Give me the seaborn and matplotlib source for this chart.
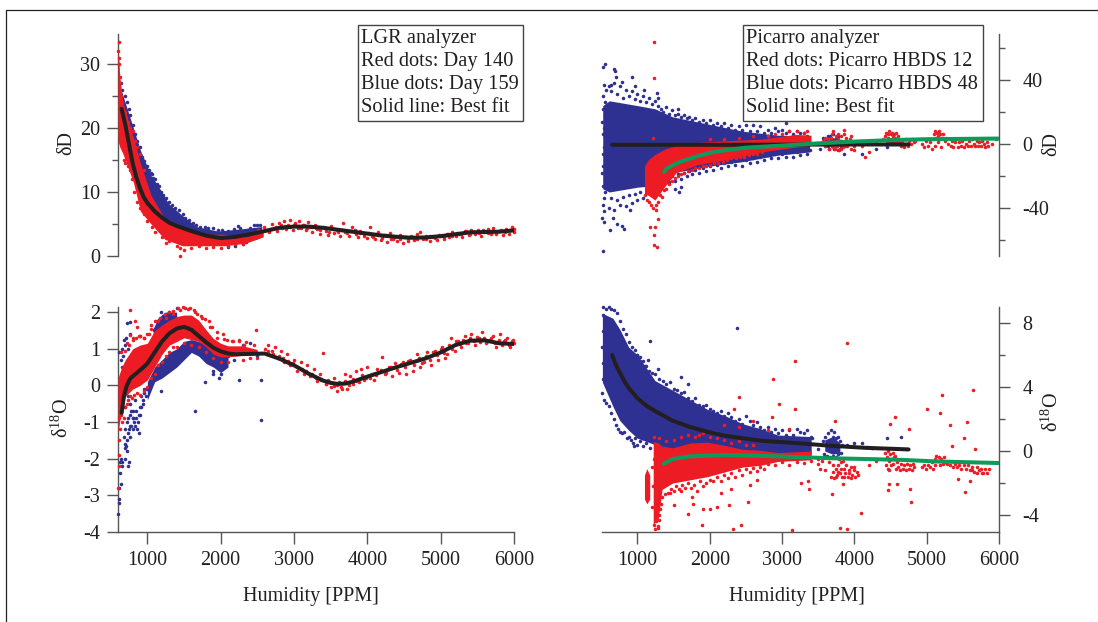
import matplotlib
matplotlib.use("Agg")
import matplotlib.pyplot as plt
from matplotlib.lines import Line2D
from matplotlib.ticker import FixedLocator
import seaborn as sns

sns.set_theme(style="white")
plt.rcParams["font.family"] = ["Liberation Serif", "DejaVu Serif"]
plt.rcParams["mathtext.fontset"] = "custom"
plt.rcParams["mathtext.rm"] = "Liberation Serif"
plt.rcParams["axes.unicode_minus"] = False

# ---- fitted curves
tl_fit_x = [650,700,750,800,850,900,950,1000,1100,1200,1300,1400,1500,1600,1800,2000,2200,2400,2600,2800,3000,3200,3400,3600,3800,4000,4200,4400,4600,4800,5000,5200,5400,5600,5800,6000]
tl_fit_y = [23,20.5,17.5,14.5,12.3,10.6,9.2,8.3,7,6,5.2,4.7,4.3,3.9,3.2,2.8,3,3.4,3.9,4.4,4.6,4.6,4.4,4.1,3.8,3.5,3.2,3,2.85,2.9,3.1,3.4,3.7,3.75,3.8,4.0]
bl_fit_x = [650,680,720,770,850,950,1000,1100,1200,1300,1400,1500,1600,1700,1800,1900,2000,2100,2200,2400,2600,2800,3000,3200,3400,3500,3600,3700,3800,4000,4200,4400,4600,4800,5000,5200,5400,5600,5800,6000]
bl_fit_y = [-0.75,-0.3,0,0.2,0.33,0.5,0.6,0.9,1.2,1.42,1.55,1.6,1.52,1.35,1.18,1.03,0.93,0.87,0.85,0.86,0.87,0.73,0.55,0.32,0.13,0.07,0.04,0.05,0.1,0.24,0.37,0.5,0.62,0.74,0.9,1.1,1.22,1.23,1.15,1.13]
tr_black_x = [650,1000,2000,3000,4000,4750]
tr_black_y = [-0.5,-0.5,-0.5,-0.4,-0.3,-0.3]
tr_green_x = [1370,1400,1500,1600,1800,2000,2200,2500,2800,3000,3500,4000,4500,5000,5500,6000]
tr_green_y = [-17.5,-15.5,-13,-11,-8,-5.5,-4,-2.3,-1.5,-1,0.4,1.5,2.4,3,3.2,3.4]
br_black_x = [650,700,757,815,878,1000,1120,1243,1485,1728,1970,2213,2700,3184,3670,4155,4750]
br_black_y = [6.0,5.4,4.9,4.4,3.95,3.3,2.85,2.5,1.9,1.5,1.2,0.95,0.65,0.5,0.33,0.2,0.1]
br_green_x = [1364,1485,1728,2213,2700,3670,4641,5126,6000]
br_green_y = [-0.8,-0.5,-0.33,-0.25,-0.3,-0.45,-0.55,-0.65,-0.75]

# ---- outlines of the solid, saturated core of each cloud
tl_blue_band_x = [640,740,906,1050,1145,1290,1480,1670,1960,2245,2485,2560]
tl_blue_band_lo = [20,18,11,7,6,4.5,3.5,3,2.5,2,2.6,3]
tl_blue_band_hi = [26,22.5,16.5,12.6,11,8.2,6.3,4.6,3.9,4.2,4.5,4.6]
tl_red_band_x = [600,625,667,810,906,1050,1240,1480,1770,2055,2340,2580]
tl_red_band_lo = [18,17,16,11.5,7,5,2.6,1.6,1.6,1.6,2,3]
tl_red_band_hi = [33,28,24,18.5,14.5,9.5,5.8,4.3,3.4,3.4,3,3.8]

bl_blue_band1_x = [1000,1100,1200,1300,1400,1500,1600,1700,1800,1900,2000,2100]
bl_blue_band1_lo = [-0.4,0.1,0.2,0.35,0.5,0.7,0.9,0.8,0.6,0.5,0.35,0.5]
bl_blue_band1_hi = [0.1,0.5,0.7,0.9,1,1.2,1.25,1.2,1.1,1,0.9,0.8]
bl_blue_band2_x = [1080,1150,1250,1400]
bl_blue_band2_lo = [1.3,1.4,1.5,1.6]
bl_blue_band2_hi = [1.55,1.85,2.0,2.0]
bl_red_band_x = [600,650,700,800,900,1000,1100,1200,1300,1400,1500,1600,1700,1800,1900,2000,2100,2300,2500]
bl_red_band_lo = [-1.3,-0.6,-0.3,-0.1,0,0.15,0.5,0.85,1.1,1.2,1.3,1.25,1.2,1.05,0.85,0.78,0.78,0.82,0.85]
bl_red_band_hi = [0.2,0.5,0.7,1.0,1.1,1.15,1.5,1.65,1.78,1.88,1.92,1.92,1.78,1.52,1.28,1.15,1.08,1.08,0.98]

tr_blue_band_x = [520,612,1000,1243,1485,1970,2456,2940,3380]
tr_blue_band_lo = [-28,-30,-27,-26,-18,-14,-11,-7,-5]
tr_blue_band_hi = [24,27,24,22,17,12.5,8,5.5,5]
tr_blue2_x = [3590,3700,3800]
tr_blue2_lo = [0,-2,-1]
tr_blue2_hi = [3,4,3]
tr_red_band_x = [1097,1146,1243,1388,1534,1825,2213,2700,3184,3400]
tr_red_band_lo = [-31,-32,-35,-26,-18,-13,-10,-5,-2,-1]
tr_red_band_hi = [-14,-10,-6.5,-3,-1,1,2,3,6,5.5]

br_blue_band_x = [515,660,757,878,1000,1243,1485,1728,1970,2213,2456,2700,2941,3403]
br_blue_band_lo = [4.3,2.8,1.9,1.3,0.8,0.4,0.1,0.05,0,0,-0.1,-0.1,-0.3,-0.2]
br_blue_band_hi = [8.6,8.3,7.6,6.5,6,4.4,3.8,3.2,2.6,2.2,1.7,1.4,1,0.9]
br_blue2_x = [3590,3700,3800]
br_blue2_lo = [0,-0.2,-0.1]
br_blue2_hi = [0.7,0.9,0.5]
br_red_band_x = [1218,1290,1340,1485,1728,1970,2213,2456,2700,2941,3403]
br_red_band_lo = [-4.6,-4.2,-2.4,-2.0,-1.8,-1.6,-1.3,-1.0,-0.9,-0.65,-0.55]
br_red_band_hi = [0.6,0.5,0.3,0.2,0.5,0.55,0.35,0.1,0.05,-0.1,0]
br_red_sliver_x = [1097,1130,1170]
br_red_sliver_lo = [-3,-3.3,-3]
br_red_sliver_hi = [-1.5,-1.1,-1.5]

# ---- individual dots, as (ppm, delta) pairs
tl_blue_pts = [(640,27),(660,26),(690,25),(720,24),(745,23),(770,22),(800,20.5),(830,19),(860,18),(900,17),(930,15.5),(960,14.8),(990,14),(1020,13.5),(1045,13),(1060,12.8),(1080,12.2),(1100,12),(1130,11.2),(1160,11),(1190,10),(1220,9.5),(1250,9),(1290,8.5),(1330,8),(1380,7.5),(1430,7.2),(1480,6.5),(1520,6),(1570,5.6),(1620,5.2),(1670,4.9),(1720,4.6),(1780,4.6),(1830,4.3),(1900,4.3),(1960,4),(2020,4),(2100,3.9),(2180,4.2),(2230,4.7),(2260,4.4),(2340,3.8),(2400,4.4),(2450,4.8),(2500,4.9),(2540,4.8),(2100,1.4),(2200,1.5),(2300,1.9),(2350,2.2),(2400,2.7),(2480,3.1)]
tl_red_pts = [(610,33.5),(605,32),(615,31),(620,30),(625,28),(630,27),(640,25),(650,24),(700,22.5),(730,21),(760,20),(800,19.5),(830,18),(860,17),(900,16),(950,13.5),(680,15),(700,14.5),(730,14),(760,13.5),(790,12),(820,10),(860,8.5),(900,7.5),(950,6.5),(1000,5.5),(1060,4.5),(1100,3.8),(1200,3),(1250,2),(1300,2.3),(1400,1.5),(1450,1.2),(1500,1),(1600,1.3),(1700,1.5),(1440,0),(1800,1.2),(1900,1.4),(2000,1.2),(2100,1.6),(2200,1.9),(2300,1.8),
 (2420,3.6),(2460,3.1),(2510,4.1),(2550,3.5),(2590,4.6),(2620,4),(2660,3.7),(2700,5),(2730,4.3),(2770,3.9),(2800,5.2),(2830,4.4),(2860,5.5),(2890,4.2),(2920,4.9),(2950,5.6),(2980,4.1),(3010,5.1),(3040,4.7),(3070,5.4),(3100,4.3),(3130,4.9),(3160,4.1),(3190,5.3),(3220,4.6),(3250,3.8),(3290,4.9),(3320,4.2),(3350,3.4),(3390,4.6),(3430,3.9),(3470,3.3),(3510,4.7),(3550,3.6),(3590,4.1),(3630,3.1),(3670,5.1),(3700,3.7),(3750,3.2),(3790,4.6),(3830,4),(3870,3),(3900,3.9),(3950,3.4),(3990,2.8),(4030,4.5),(4070,3.1),(4110,2.6),(4150,3.8),(4190,2.5),(4230,3.3),(4270,2.2),(4310,3.6),(4350,2.7),(4400,2.4),(4440,3.3),(4480,2.1),(4520,2.9),(4560,2.3),(4600,3.2),(4640,2.5),(4680,3.4),(4720,3.8),(4760,2.7),(4800,3.1),(4850,2.3),(4900,3),(4950,2.5),(5000,3.2),(5040,2.6),(5080,3.5),(5120,2.9),(5160,3.7),(5210,3.1),(5250,3.4),(5290,3),(5330,3.9),(5380,3.3),(5420,4.1),(5470,3.5),(5510,4),(5550,3.2),(5590,3.7),(5640,4.2),(5680,3.4),(5720,4.4),(5760,3.6),(5800,3.9),(5850,3.3),(5890,4.2),(5930,3.5),(5970,4.5),(6000,3.7),
 (2440,3.5),(2520,3.7),(2600,4.0),(2680,4.2),(2750,4.5),(2820,4.8),(2880,4.7),(2940,4.5),(3000,4.9),(3060,4.4),(3120,4.8),(3180,4.3),(3240,4.5),(3300,4.4),(3360,4),(3420,4.3),(3480,3.8),(3540,4.2),(3600,3.8),(3660,4.1),(3720,3.6),(3780,3.9),(3840,3.4),(3900,3.6),(3960,3.2),(4020,3.6),(4080,2.9),(4140,3.3),(4200,2.8),(4260,3.3),(4320,2.6),(4380,3),(4440,2.7),(4500,3),(4560,2.6),(4620,3),(4680,2.6),(4740,3),(4800,2.7),(4860,3.1),(4920,2.8),(4980,3.3),(5040,3),(5100,3.5),(5160,3.2),(5220,3.6),(5280,3.4),(5340,3.9),(5400,3.5),(5460,3.8),(5520,3.6),(5580,4),(5640,3.6),(5700,3.9),(5760,3.5),(5820,4),(5880,3.7),(5940,4.1),(6000,4.2)]

bl_blue_pts = [(605,-3.5),(610,-3.2),(615,-3.1),(620,-2.8),(625,-2.4),(630,-2.1),(635,-2.0),(640,-2.7),(650,-2.2),(660,-2.1),(700,-1.7),(720,-1.5),(735,-1.3),(750,-1.2),(760,-0.8),(780,-1.1),(800,-0.9),(820,-1),(840,-0.7),(860,-1.2),(880,-1.3),(900,-0.8),(920,-0.6),(940,-0.4),(960,-0.1),(700,-0.6),(740,-0.3),(770,-0.5),(800,-0.7),(830,-0.4),(620,0.9),(640,0.7),(655,1.0),(670,0.8),(690,1.1),(710,1.3),(730,1.0),(760,1.4),(650,0.5),(680,1.25),(720,1.7),(760,1.72),(1090,1.5),(1130,1.75),(1180,2.0),(1220,1.9),(1250,1.85),(1300,2.0),(1340,1.95),(1400,2.1),(1180,-0.15),(1650,-0.7),(2550,-0.93),(1780,0.1),(1900,0.3),(2000,0.3),(2050,0.6),(2250,0.15),(2550,0.15),(2300,1.1),(2400,1.15),(2500,0.8),(1900,0.4),(1980,0.2),(2100,0.8),(2180,0.7),
 (680,-1.4),(700,-1.2),(720,-1),(740,-0.9),(760,-1.4),(770,-1.1),(780,-0.7),(800,-1.2),(810,-0.9),(830,-1.1),(850,-0.9),(870,-1.0),(880,-0.8),(900,-0.6),(920,-0.3),(940,-0.5),(960,-0.2),(980,-0.3),(1000,-0.1),(690,-1.6),(710,-1.65),(725,-1.8),(745,-2.1),(700,-2.0),(740,-2.2)]
bl_red_pts = [(605,-2.8),(610,-2.2),(615,-1.9),(618,-1.5),(625,-1.2),(620,-0.9),(770,2.05),(830,1.75),(860,1.6),(880,1.35),(640,0.9),(720,1.15),(770,1.38),(800,1.25),(900,1.35),(950,1.3),(1020,1.4),(1050,1.65),(1100,1.75),(1170,1.85),(1240,1.95),(1300,2.0),(1350,2.02),(1420,2.1),(1480,2.15),(1520,2.12),(1580,2.1),(1630,2.05),(1680,1.95),(1730,1.9),(1790,1.8),(1840,1.75),(1880,1.6),(1950,1.45),(2030,1.4),(2080,1.25),(2170,1.2),(2250,1.25),(2320,1.1),(2480,1.5),(2600,1.0),(2650,1.1),(2700,0.95),(2740,1.05),(2780,0.75),(2820,0.95),(2870,0.65),(2900,0.85),(2950,0.55),(3000,0.7),(3040,0.4),(3090,0.65),(3130,0.3),(3180,0.55),(3220,0.25),(3270,0.45),(3310,0.12),(3360,0.3),(3400,0.88),(3430,0.05),(3470,0.15),(3510,-0.05),(3550,0.2),(3580,-0.15),(3620,0.1),(3660,-0.1),(3690,0.3),(3720,-0.1),(3760,0.25),(3800,0.05),(3840,0.4),(3880,0.1),(3910,0.45),(3960,0.15),(4000,0.5),(4040,0.2),(4090,0.15),(4130,0.45),(4200,0.78),(4240,0.3),(4290,0.5),(4330,0.25),(4380,0.6),(4430,0.35),(4480,0.65),(4530,0.3),(4580,0.7),(4620,0.4),(4680,0.85),(4720,0.5),(4770,0.65),(4820,0.9),(4870,0.55),(4920,0.95),(4970,0.7),(5020,1.05),(5060,0.75),(5090,0.85),(5140,1.3),(5190,0.95),(5230,1.2),(5280,1.05),(5330,1.35),(5370,1.15),(5420,1.4),(5470,1.1),(5520,1.3),(5560,1.45),(5620,1.15),(5670,1.25),(5710,1.35),(5760,1.05),(5810,1.4),(5860,1.2),(5900,1.3),(5950,1.05),(5980,1.25),(6000,1.15),
 (2650,0.95),(2720,0.85),(2790,0.8),(2850,0.75),(2920,0.68),(2980,0.6),(3050,0.5),(3110,0.45),(3170,0.38),(3240,0.3),(3300,0.2),(3370,0.15),(3440,0.05),(3490,0.1),(3540,-0.02),(3590,0.02),(3640,-0.05),(3700,0.12),(3750,0),(3810,0.18),(3860,0.12),(3930,0.28),(3980,0.2),(4060,0.32),(4120,0.28),(4180,0.42),(4260,0.35),(4320,0.5),(4400,0.42),(4460,0.58),(4510,0.5),(4560,0.68),(4640,0.55),(4700,0.75),(4750,0.62),(4800,0.8),(4850,0.7),(4900,0.92),(4950,0.82),(5000,1),(5050,0.88),(5110,1.1),(5160,1),(5210,1.2),(5260,1.12),(5310,1.25),(5350,1.15),(5400,1.3),(5450,1.2),(5500,1.32),(5540,1.18),(5590,1.3),(5640,1.2),(5690,1.3),(5740,1.15),(5790,1.25),(5830,1.1),(5880,1.25),(5930,1.1),(5970,1.2),
 (640,-0.8),(660,-1),(680,-0.9),(700,-0.6),(720,-0.5),(740,-0.4),(760,-0.3),(790,-0.35),(820,-0.25),(860,-0.2),(900,-0.25),(950,-0.15),(1000,-0.05),(1050,0.2),(1100,0.3),(1150,0.55),(1200,0.65),(1250,0.8),(1300,0.9),(1350,1.05),(1400,1.05),(1500,1.15),(1600,1.1),(1700,1.05),(1800,0.9),(1900,0.75),(2000,0.65),(2100,0.65),(2300,0.7),(2400,0.75),(2500,0.75),
 (700,0.95),(750,1.1),(800,1.3),(850,1.3),(900,1.35),(950,1.3),(1000,1.4),(1050,1.55),(1150,1.75),(1250,1.85),(1350,1.95),(1450,2.05),(1550,2.08),(1650,2),(1750,1.85),(1850,1.6),(1950,1.3),(2050,1.28),(2150,1.22),(2250,1.2),(2350,1.18),(2450,1.1)]

tr_blue_pts = [(524,-67),(626,-54),(539,-49),(782,-51),(816,-53),(660,-46),(515,-46),(718,-50),(893,-41),(549,50),(524,48),(675,47),(684,45.6),(927,42),(709,42),(782,39),(1097,34),(966,36),(1267,32),(636,37),(539,37),(1291,29),(563,34),(1558,22),(3048,13),
 (520,30),(545,26),(530,22),(555,18),(515,14),(540,10),(525,6),(560,2),(535,-2),(520,-6),(550,-10),(530,-14),(515,-18),(545,-22),(525,-26),(555,-30),(535,-34),(520,-38),(540,-42),
 (600,36),(640,33),(680,38),(720,31),(760,36),(800,29),(840,34),(880,30),(920,33),(960,28),(1000,31),(1040,27),(1080,30),(1120,26),(1160,29),(1200,25),(1240,27),(1280,24),(1320,22),(1360,20),(1400,23),(1440,19),(1480,21),(1520,18),(1560,19),(1600,17),(1640,18),(1680,16),(1720,17),(1760,15),(1800,16),(1850,14),(1900,15),(1950,13),(2000,15),(2050,12),(2100,13),(2150,11),(2200,13),(2250,10),(2300,12),(2350,9),(2400,11),(2450,9),(2500,12),(2550,8),(2600,12),(2650,8),(2700,11),(2750,7),(2800,9),(2850,7),(2900,10),(2950,8),(3000,9),(3050,7),(3100,8),(3150,6),(3200,8),(3250,7),(3300,7),(3350,5),
 (600,-40),(640,-34),(680,-41),(720,-35),(760,-38),(800,-33),(840,-39),(880,-32),(920,-37),(960,-31),(1000,-35),(1040,-30),(1080,-34),(1400,-21),(1440,-24),(1480,-20),(1520,-23),(1560,-19),(1600,-22),(1640,-18),(1680,-20),(1720,-17),(1760,-19),(1800,-16),(1850,-18),(1900,-15),(1950,-17),(2000,-14),(2050,-16),(2100,-13),(2150,-15),(2200,-12),(2250,-14),(2300,-11),(2350,-13),(2400,-10),(2450,-14),(2500,-10),(2550,-12),(2600,-9),(2650,-11),(2700,-8),(2750,-10),(2800,-7),(2850,-9),(2900,-6),(2950,-9),(3000,-6),(3050,-8),(3100,-5),(3150,-8),(3200,-5),(3250,-7),(3300,-4),(3350,-6),(3380,-4),
 (3570,4),(3600,-1),(3630,5),(3650,-3),(3680,2),(3700,6),(3720,-3),(3740,3),(3760,-1),(3780,5),(3800,-3),(3820,2),(3610,2),(3660,5),(3690,-1),(3730,0),(3770,-4),(3810,-1),(3590,1),(3640,-1),(1520,-28),(1580,-30),(1600,-27),(3520,-3),(3850,-6),(4100,-6),(4300,-3),(4450,-2)]
tr_red_pts = [(1228,63.7),(1228,41),(1218,3.5),(1180,-52),(1243,-52),(1228,-57),(1233,-63),(1277,-64.5),(1291,-47),(1252,-41),
 (1110,-32),(1130,-35),(1160,-36),(1190,-38),(1220,-40),(1250,-38),(1280,-36),(1310,-32),(1340,-33),(1370,-29),(1400,-28),(1440,-25),(1480,-23),(1520,-21),(1560,-20),(1600,-19),(1650,-18),(1700,-17),(1750,-16),(1800,-15),(1850,-15),(1900,-14),(1950,-14),(2000,-13),(2060,-12),(2120,-12),(2180,-11),(2240,-10),(2300,-9),(2360,-9),(2420,-8),(2480,-8),(2540,-7),(2600,-6),(2660,-6),(2720,-5),
 (2000,3),(2200,3),(2400,4),(2600,5),(2800,5),(2900,6),(3000,6),(3100,8),(3200,8),(3300,7),(3350,8),
 (3570,2),(3600,-1),(3630,3),(3660,0),(3680,4),(3700,-2),(3720,2),(3740,5),(3760,-1),(3780,3),(3800,0),(3820,5),(3840,-2),(3860,2),(3880,4),(3900,-1),(3920,1),(3940,3),(3960,-3),(3980,1),(4000,-1),(3600,4),(3650,-3),(3690,1),(3730,-3),(3770,6),(3810,-3),(3850,6),(3690,6),(3750,2),(3790,-4),(3830,1),(3870,-1),(3720,-1),(3700,8),(3850,9),(3950,5),(4150,-8),(4200,-5),(4000,-4),(4100,-1),(4300,2),
 (4400,3),(4420,5),(4440,7),(4450,2),(4460,6),(4470,4),(4480,8),(4490,1),(4500,6),(4510,3),(4520,7),(4530,5),(4540,1),(4550,6),(4560,4),(4570,2),(4580,7),(4600,3),(4620,1),(4640,-1),(4660,2),(4680,-2),(4700,0),(4720,3),(4740,-1),(4760,2),(4780,0),(4800,3),(4820,1),(4840,2),(4610,5),
 (4930,0),(4960,-2),(4990,2),(5020,-1),(5050,1),(5070,-3),(5090,3),(5100,6),(5110,-1),(5120,8),(5130,4),(5140,7),(5150,1),(5160,5),(5170,8),(5180,3),(5190,6),(5200,-2),(5210,4),(5230,6),(5250,2),(5270,4),(5300,0),(5330,-1),(5350,2),(5370,-2),(5390,1),(5410,3),(5430,-2),(5450,1),(5470,-1),(5490,2),(5510,-2),(5530,3),(5550,0),(5570,-1),(5590,2),(5610,-1),(5630,3),(5650,0),(5670,-1),(5690,2),(5710,-1),(5730,1),(5750,-1),(5770,2),(5790,0),(5810,-2),(5830,1),(5850,-1),(5960,3),(5900,0)]

br_blue_pts = [(2380,7.7),(1180,6.9),(1600,4.6),(1150,5.7),(880,6.1),(1000,6.0),(1040,5.6),(1100,5.3),(950,0.3),(1700,4.2),(1280,5.1),(3900,0.4),(4100,0.5),(4250,0.2),(4650,0.9),(4450,0.8),(3420,0.8),(3500,0.1),(4000,0.5),
 (520,9),(560,8.9),(600,9),(640,8.9),(680,8.8),(720,8.6),(760,8.1),(800,7.6),(840,7.3),(880,6.8),(920,6.5),(960,6.3),(1000,6),(1040,5.9),(1080,5.6),(1120,5.3),(1160,5),(1200,4.9),(1240,4.8),(1300,4.5),(1350,4.4),(1400,4.2),(1450,4.3),(1500,3.9),(1550,3.8),(1600,3.6),(1650,3.7),(1700,3.3),(1750,3.1),(1800,3.3),(1850,2.9),(1900,2.8),(1950,2.9),(2000,2.6),(2050,2.5),(2100,2.4),(2150,2.5),(2200,2.2),(2250,2.4),(2300,2.1),(2350,1.9),(2400,2),(2450,1.7),(2500,2.2),(2550,1.9),(2600,1.6),(2650,1.8),(2700,1.5),(2750,1.3),(2800,1.5),(2850,1.2),(2900,1.4),(2950,1.1),(3000,1.3),(3050,1.0),(3100,1.3),(3150,1.0),(3200,1.4),(3250,1.2),(3300,1.1),(3350,1.3),(3400,0.9),
 (515,3.6),(540,3.2),(570,3.0),(600,2.8),(640,2.4),(680,2.0),(700,1.6),(730,1.4),(760,1.2),(790,1.1),(820,1.2),(850,0.8),(880,0.9),(910,0.7),(940,0.5),(970,0.8),(1000,0.4),(1040,0.6),(1080,0.3),(1120,0.5),(1170,0.2),(520,8.5),(525,7.5),(515,6.5),(530,5.5),(520,4.5),
 (3570,0.6),(3600,0.9),(3630,1.1),(3660,0.7),(3680,1.3),(3700,0.9),(3720,1.2),(3750,0.8),(3780,0.9),(3800,0.6),(3830,0.4),(3580,-0.2),(3620,-0.3),(3660,-0.35),(3700,-0.3),(3740,-0.35),(3780,-0.2),(3810,-0.1)]
br_red_pts = [(3903,6.75),(3184,5.6),(2869,4.5),(2398,3.4),(2951,2.95),(2335,2.6),(3184,2.6),(2859,2.1),(5646,3.8),(5209,3.5),(5000,2.65),(5189,2.4),(4568,2.15),(5320,1.6),(5563,1.8),(4495,1.7),(3733,1.85),(4762,1.35),(5515,0.8),(5354,0.3),(5675,0.1),(4786,-3.2),(4097,-3.9),(3806,-4.8),(3903,-4.9),(3694,-2.7),(5529,-2.55),(4772,-2.4),(4471,-2.45),(4476,-2.05),(4592,-2.07),(5432,-1.75),(5598,-1.85),(3369,-2.35),(3359,-1.9),(3262,-2),(3840,-2.05),(3136,-4.95),(2432,-4.6),(2325,-4.9),(1888,-4.6),(1704,-3.95),(1510,-3.4),(1762,-3.3),(1908,-3.6),(2000,-3.65),(2102,-3.5),(2262,-3.4),(2524,-3.2),(1300,-4.3),(1280,-4.8),(1850,1.0),(2050,1.2),(2200,1.6),(2400,1.5),(2600,1.9),(2800,1.3),(3100,1.4),(3500,-0.8),(3600,-1.2),(3520,-1.1),(4200,-0.9),(4300,-0.6),(1450,-2.6),(1600,-2.5),(1750,-2.9),(2150,-2.6),(2300,-2.4),(2550,-2.1),(2650,-1.8),
 (1340,-2.9),(1380,-2.7),(1420,-2.6),(1460,-2.4),(1500,-2.5),(1540,-2.2),(1580,-2.4),(1620,-2.1),(1660,-2.3),(1700,-2),(1740,-2.3),(1780,-2.1),(1820,-2.5),(1860,-1.9),(1900,-2.2),(1950,-2),(2000,-1.8),(2050,-1.9),(2100,-1.6),(2150,-1.9),(2200,-1.5),(2250,-1.7),(2300,-1.4),(2350,-1.6),(2400,-1.2),(2450,-1.5),(2500,-1.1),(2550,-1.3),(2600,-1.05),(2650,-1.25),(2700,-1),(2750,-1.1),(2800,-0.8),(2900,-0.9),(3000,-0.7),(3100,-0.85),(3200,-0.7),(3300,-0.75),(3400,-0.6),
 (1225,-4.6),(1240,-4.9),(1260,-4.4),(1280,-4.7),(1300,-4),(1310,-3.6),(1250,-3.8),(1330,-3.3),(1205,-3.5),(1210,-2.2),(1200,-1),(1235,-0.5),
 (1230,0.9),(1300,0.8),(1400,0.6),(1500,0.7),(1600,0.9),(1700,1.0),(1800,0.9),(1900,1.1),(2000,0.9),(2100,0.8),(2200,0.7),(2300,0.5),(2400,0.6),(2500,0.4),(2600,0.4),
 (3680,-1.6),(3700,-1.3),(3720,-1.7),(3740,-1.1),(3760,-1.5),(3780,-0.9),(3800,-1.4),(3820,-0.7),(3830,-1.6),(3850,-1.1),(3870,-1.4),(3890,-0.9),(3910,-1.6),(3930,-1.2),(3950,-1),(3970,-1.5),(3990,-1.2),(4010,-1.6),(4030,-1.3),(4050,-1.5),(3700,-0.9),(3770,-1.3),(3810,-1.1),(3860,-1.6),(3920,-1.4),(3960,-1.7),(4000,-1),(3740,-1.6),(3790,-0.5),(3840,-0.6),(3500,-0.5),(3550,-0.6),(3600,-0.4),(3650,-0.7),
 (4430,-0.1),(4450,-0.4),(4470,0),(4480,-0.6),(4490,-0.2),(4510,-0.5),(4530,-0.1),(4550,-0.4),(4440,-0.9),(4460,-1.1),(4500,-0.9),(4540,-0.8),(4570,-1.1),(4590,-0.7),(4610,-1),(4630,-1.2),(4650,-0.8),(4670,-1.1),(4690,-0.9),(4710,-1.2),(4730,-0.8),(4750,-1.1),(4770,-0.9),(4790,-1.2),(4810,-0.8),(4830,-1),(4560,-0.3),(4480,-1.2),
 (4930,-1),(4960,-0.9),(4990,-1.1),(5020,-0.9),(5050,-1),(5070,-0.7),(5090,-1.1),(5110,-0.5),(5120,-0.9),(5130,-0.3),(5150,-0.6),(5170,-0.4),(5180,-0.9),(5200,-0.5),(5220,-0.8),(5240,-0.4),(5260,-0.7),(5280,-0.8),(5320,-0.9),(5360,-1),(5390,-0.8),(5420,-1),(5450,-0.85),(5480,-1.1),(5510,-0.9),(5540,-1.15),(5570,-0.9),(5600,-1.2),(5630,-1),(5660,-1.3),(5690,-1),(5720,-1.2),(5750,-1.1),(5780,-1.35),(5810,-1.15),(5840,-1.4),(5860,-1.1),(5700,-1.4),(5760,-1.4),(5620,-1.2)]

box_left = ["LGR analyzer", "Red dots: Day 140", "Blue dots: Day 159", "Solid line: Best fit"]
box_right = ["Picarro analyzer", "Red dots: Picarro HBDS 12", "Blue dots: Picarro HBDS 48", "Solid line: Best fit"]
x_ticks = [1000, 2000, 3000, 4000, 5000, 6000]
x_label = "Humidity [PPM]"

BLUE, RED, BLACK, GREEN = "#2E3192", "#ED1C24", "#231F20", "#0E9A5A"
AXC, TXT = "#555555", "#231F20"
W, H = 1098, 622
FS = 14.5

fig = plt.figure(figsize=(W / 100, H / 100), dpi=100, facecolor="white")

def make_ax(l, r, t, b):
    return fig.add_axes([l / W, 1 - b / H, (r - l) / W, (b - t) / H], facecolor="none")

def dots(ax, pts, c):
    x, y = zip(*pts)
    sns.scatterplot(x=list(x), y=list(y), ax=ax, color=c, s=6.5, linewidth=0, marker="o", clip_on=False, zorder=3, legend=False)

def band(ax, x, lo, hi, c):
    ax.fill_between(x, lo, hi, color=c, linewidth=0, zorder=3)

def fit(ax, x, y, c):
    sns.lineplot(x=x, y=y, ax=ax, color=c, linewidth=2.9, estimator=None, sort=False, zorder=5, legend=False)

def style(ax, side, xaxis, major, minor):
    for s in ax.spines.values():
        s.set_visible(False)
        s.set_color(AXC)
        s.set_linewidth(1.0)
    ax.spines[side].set_visible(True)
    ax.yaxis.set_major_locator(FixedLocator(major))
    ax.yaxis.set_minor_locator(FixedLocator(minor))
    if side == "right":
        ax.yaxis.tick_right()
    ax.tick_params(axis="y", which="major", left=side == "left", right=side == "right", length=8, width=1.0, color=AXC,
                   labelsize=FS, labelcolor=TXT, pad=9 if side == "right" else 5)
    ax.tick_params(axis="y", which="minor", left=side == "left", right=side == "right", length=4.5, width=1.0, color=AXC)
    if xaxis:
        ax.spines["bottom"].set_visible(True)
        ax.set_xticks(x_ticks)
        ax.tick_params(axis="x", which="major", bottom=True, length=8.5, width=1.0, color=AXC, labelsize=FS,
                       labelcolor=TXT, pad=5)
        ax.set_xlabel(x_label, fontsize=FS, color=TXT)
    else:
        ax.set_xticks([])
        ax.set_xlabel("")
    ax.set_ylabel("")

def note(lines, x0, x1, ytop, ybot):
    fig.add_artist(plt.Rectangle((x0 / W, 1 - ybot / H), (x1 - x0) / W, (ybot - ytop) / H, transform=fig.transFigure,
                                 facecolor="white", edgecolor="#444444", linewidth=1.0, zorder=10))
    for i, t in enumerate(lines):
        fig.text((x0 + 3) / W, 1 - (38 + 23.2 * i) / H, t, fontsize=14.7, color=TXT, va="center", ha="left", zorder=11)

# top left
ax = make_ax(118, 514, 34, 256)
band(ax, tl_blue_band_x, tl_blue_band_lo, tl_blue_band_hi, BLUE)
dots(ax, tl_blue_pts, BLUE)
band(ax, tl_red_band_x, tl_red_band_lo, tl_red_band_hi, RED)
dots(ax, tl_red_pts, RED)
fit(ax, tl_fit_x, tl_fit_y, BLACK)
ax.set_xlim(600, 6000); ax.set_ylim(0, 34.7)
style(ax, "left", False, [0, 10, 20, 30], [5, 15, 25])

# top right
ax = make_ax(602, 999, 34, 256)
band(ax, tr_blue_band_x, tr_blue_band_lo, tr_blue_band_hi, BLUE)
band(ax, tr_blue2_x, tr_blue2_lo, tr_blue2_hi, BLUE)
dots(ax, tr_blue_pts, BLUE)
band(ax, tr_red_band_x, tr_red_band_lo, tr_red_band_hi, RED)
dots(ax, tr_red_pts, RED)
fit(ax, tr_black_x, tr_black_y, BLACK)
fit(ax, tr_green_x, tr_green_y, GREEN)
ax.set_xlim(510, 6000); ax.set_ylim(-70, 68.75)
style(ax, "right", False, [-40, 0, 40], [-60, -20, 20, 60])

# bottom left
ax = make_ax(118, 514, 307, 532)
band(ax, bl_blue_band1_x, bl_blue_band1_lo, bl_blue_band1_hi, BLUE)
band(ax, bl_blue_band2_x, bl_blue_band2_lo, bl_blue_band2_hi, BLUE)
dots(ax, bl_blue_pts, BLUE)
band(ax, bl_red_band_x, bl_red_band_lo, bl_red_band_hi, RED)
dots(ax, bl_red_pts, RED)
fit(ax, bl_fit_x, bl_fit_y, BLACK)
ax.set_xlim(600, 6000); ax.set_ylim(-4, 2.14)
style(ax, "left", True, [-4, -3, -2, -1, 0, 1, 2], [])
ax.xaxis.set_label_coords(0.488, -0.245)

# bottom right
ax = make_ax(602, 999, 307, 532)
band(ax, br_blue_band_x, br_blue_band_lo, br_blue_band_hi, BLUE)
band(ax, br_blue2_x, br_blue2_lo, br_blue2_hi, BLUE)
dots(ax, br_blue_pts, BLUE)
band(ax, br_red_band_x, br_red_band_lo, br_red_band_hi, RED)
band(ax, br_red_sliver_x, br_red_sliver_lo, br_red_sliver_hi, RED)
dots(ax, br_red_pts, RED)
fit(ax, br_black_x, br_black_y, BLACK)
fit(ax, br_green_x, br_green_y, GREEN)
ax.set_xlim(510, 6000); ax.set_ylim(-5.06, 9)
style(ax, "right", True, [-4, 0, 4, 8], [-2, 2, 6])
ax.xaxis.set_label_coords(0.49, -0.245)

# y labels
fig.text(67 / W, 1 - 143 / H, "δD", rotation=90, fontsize=FS, color=TXT, ha="center", va="center")
fig.text(1052 / W, 1 - 144 / H, "δD", rotation=90, fontsize=FS, color=TXT, ha="center", va="center")
fig.text(62 / W, 1 - 418 / H, "δ$^{\\mathrm{18}}$O", rotation=90, fontsize=FS, color=TXT, ha="center", va="center")
fig.text(1052 / W, 1 - 412 / H, "δ$^{\\mathrm{18}}$O", rotation=90, fontsize=FS, color=TXT, ha="center", va="center")

note(box_left, 358, 523, 25, 121)
note(box_right, 743, 983, 25, 121)

# page frame
fig.add_artist(Line2D([6 / W, 6 / W, 1], [0, 1 - 10 / H, 1 - 10 / H], color="#222222", linewidth=0.9))

fig.savefig("out.png", dpi=100, facecolor="white")
